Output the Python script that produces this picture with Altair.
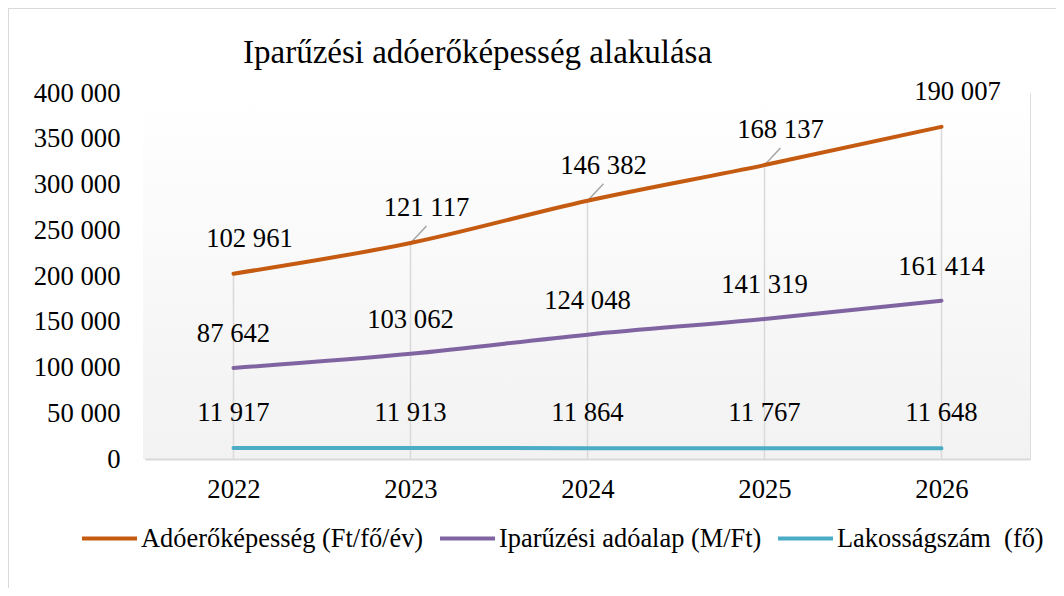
import altair as alt
import pandas as pd

# ---- data ----
years = ["2022", "2023", "2024", "2025", "2026"]
adoero = [102961, 121117, 146382, 168137, 190007]
iparuzesi = [87642, 103062, 124048, 141319, 161414]
lakossag = [11917, 11913, 11864, 11767, 11648]

series_names = [
    "Adóerőképesség (Ft/fő/év)",
    "Iparűzési adóalap (M/Ft)",
    "Lakosságszám\u00a0 (fő)",
]
series_values = [adoero, iparuzesi, lakossag]
series_colors = ["#C55A11", "#8064A2", "#4BACC6"]
y_ticks = [0, 50000, 100000, 150000, 200000, 250000, 300000, 350000, 400000]
leader_years = ["2023", "2024", "2025"]
title_text = "Iparűzési adóerőképesség alakulása"

rows = []
n = len(series_names)
for i, (name, vals) in enumerate(zip(series_names, series_values)):
    for yr, v in zip(years, vals):
        rows.append({"year": yr, "series": name, "value": v, "stack_rank": n - 1 - i})
df = pd.DataFrame(rows)

FONT = "Liberation Serif"
FS = 26.7
W, H = 885, 366

base = (
    alt.Chart(df)
    .transform_stack(
        stack="value",
        groupby=["year"],
        as_=["y0", "y1"],
        sort=[alt.SortField("stack_rank", order="ascending")],
    )
    .transform_calculate(
        label="replace(format(datum.value, ','), regexp(',', 'g'), ' ')",
        zero="0",
    )
)

x_enc = alt.X(
    "year:O",
    scale=alt.Scale(type="point", padding=0.5),
    axis=alt.Axis(
        title=None,
        labelAngle=0,
        labelFont=FONT,
        labelFontSize=FS,
        labelColor="black",
        ticks=False,
        domainColor="#d9d9d9",
        domainWidth=2,
        labelPadding=17,
        zindex=1,
    ),
)
y_enc = alt.Y(
    "y1:Q",
    scale=alt.Scale(domain=[0, 400000], nice=False),
    axis=alt.Axis(
        title=None,
        values=y_ticks,
        labelExpr="replace(format(datum.value, ','), regexp(',', 'g'), ' ')",
        labelFont=FONT,
        labelFontSize=FS,
        labelColor="black",
        domain=False,
        ticks=False,
        grid=False,
        labelPadding=25,
    ),
)

gradient = alt.Gradient(
    gradient="linear",
    stops=[
        alt.GradientStop(color="#ffffff", offset=0),
        alt.GradientStop(color="#f2f2f2", offset=1),
    ],
    x1=0, x2=0, y1=0, y2=1,
)

bg = alt.Chart(alt.Data(values=[{}])).mark_rect(color=gradient).encode(
    x=alt.value(-2), x2=alt.value(W), y=alt.value(0), y2=alt.value(H)
)

frame = alt.Chart(alt.Data(values=[{}])).mark_rect(
    fill="transparent", stroke="#d9d9d9", strokeWidth=2
).encode(x=alt.value(-137), x2=alt.value(1500), y=alt.value(-85), y2=alt.value(1500))

top_series = base.transform_filter(alt.datum.series == series_names[0])

drops = top_series.mark_rule(color="#d9d9d9", strokeWidth=1.5).encode(
    x=x_enc, y=y_enc, y2="zero:Q"
)

leaders = (
    top_series.transform_filter(alt.FieldOneOfPredicate(field="year", oneOf=leader_years))
    .mark_point(
        shape="M0,0L0.94,-1",
        size=1156,
        filled=False,
        stroke="#a6a6a6",
        strokeWidth=1.5,
        opacity=1,
    )
    .encode(x=x_enc, y=y_enc)
)

lines = base.mark_line(strokeWidth=4, interpolate="monotone", strokeCap="round").encode(
    x=x_enc,
    y=y_enc,
    color=alt.Color(
        "series:N",
        scale=alt.Scale(domain=series_names, range=series_colors),
        legend=alt.Legend(
            title=None,
            orient="none",
            legendX=-65,
            legendY=416,
            direction="horizontal",
            symbolType="stroke",
            symbolSize=3025,
            symbolStrokeWidth=4,
            labelFont=FONT,
            labelFontSize=26.4,
            labelColor="black",
            labelOffset=2,
            columnPadding=8,
            labelLimit=0,
        ),
    ),
)

text_offsets = [(16, -35), (0, -34), (0, -35)]
texts = []
for name, (ddx, ddy) in zip(series_names, text_offsets):
    texts.append(
        base.transform_filter(alt.datum.series == name)
        .mark_text(font=FONT, fontSize=FS, color="black", dx=ddx, dy=ddy)
        .encode(x=x_enc, y=y_enc, text="label:N")
    )

chart = (
    alt.layer(bg, frame, drops, leaders, lines, *texts)
    .properties(
        width=W,
        height=H,
        padding={"left": 137, "top": 85, "right": 26, "bottom": 129},
        autosize=alt.AutoSizeParams(type="none"),
        title=alt.TitleParams(
            text=title_text,
            font=FONT,
            fontSize=33,
            fontWeight="normal",
            color="black",
            anchor="start",
            frame="group",
            baseline="alphabetic",
            dx=98,
            offset=-89,
        ),
    )
    .configure_view(stroke="transparent")
    .configure(background="white")
)

chart.save("out.html", embed_options={"renderer": "svg", "actions": False})
